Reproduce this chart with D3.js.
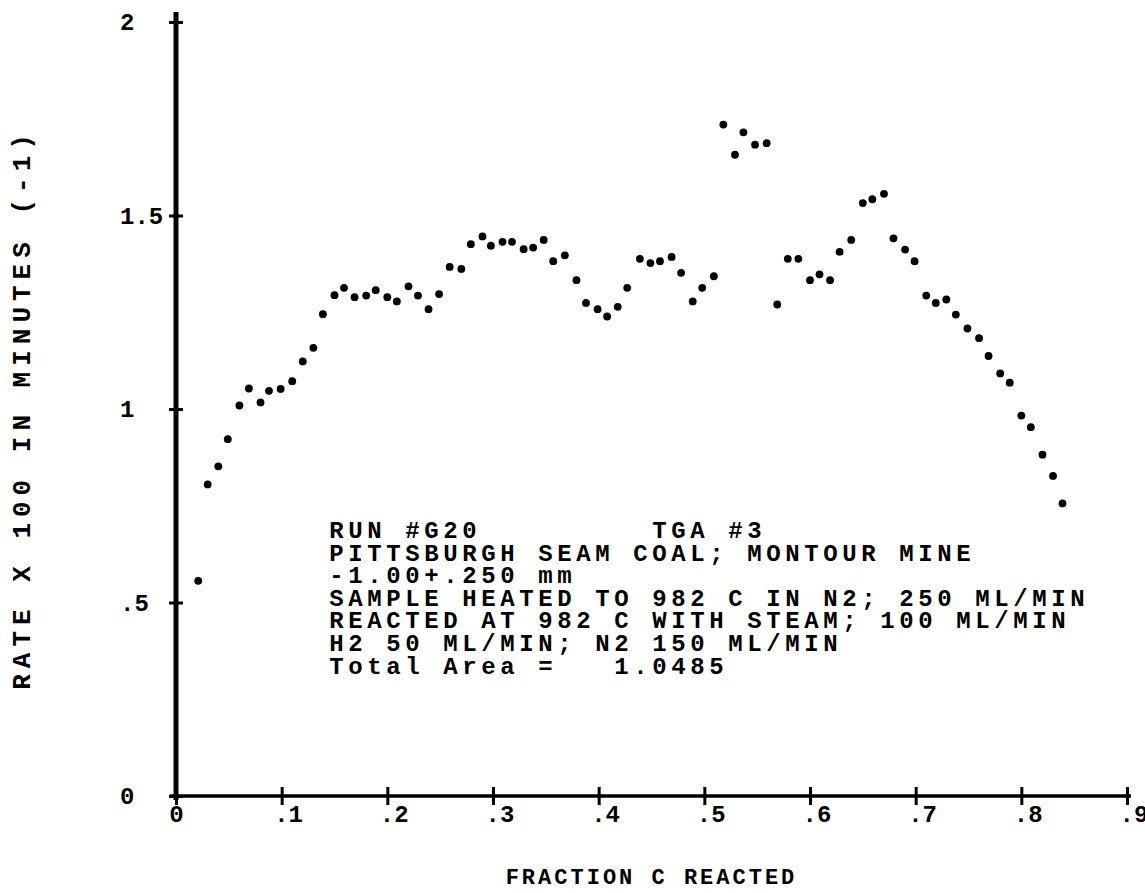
<!DOCTYPE html>
<html>
<head>
<meta charset="utf-8">
<script src="https://cdn.jsdelivr.net/npm/d3@7"></script>
<style>
  body { margin: 0; background: #fff; }
  svg text { font-family: "Liberation Mono", "DejaVu Sans Mono", monospace; fill: #000; }
</style>
</head>
<body>
<div id="chart"></div>
<script>
// fraction of carbon reacted
const fraction = [
  .021, .030, .040, .049, .060, .069, .080, .088, .099, .110,
  .120, .130, .139, .150, .159, .169, .180, .189, .200, .209,
  .220, .229, .239, .249, .259, .270, .279, .290, .298, .309,
  .318, .329, .338, .348, .357, .368, .379, .388, .399, .408,
  .418, .427, .439, .449, .458, .469, .478, .489, .498, .509,
  .518, .529, .537, .548, .559, .569, .579, .589, .600, .609,
  .619, .628, .639, .650, .659, .670, .679, .690, .699, .710,
  .719, .729, .738, .749, .760, .769, .780, .789, .800, .809,
  .820, .830, .839
];
// rate x 100 in minutes^-1
const rate = [
  .556, .805, .852, .922, 1.009, 1.053, 1.017, 1.047, 1.052, 1.072,
  1.123, 1.158, 1.245, 1.294, 1.313, 1.289, 1.293, 1.307, 1.289, 1.278,
  1.317, 1.293, 1.258, 1.297, 1.367, 1.362, 1.426, 1.446, 1.422, 1.432,
  1.432, 1.413, 1.417, 1.437, 1.382, 1.397, 1.333, 1.274, 1.258, 1.239,
  1.264, 1.313, 1.388, 1.377, 1.382, 1.393, 1.352, 1.278, 1.313, 1.343,
  1.735, 1.657, 1.715, 1.683, 1.687, 1.270, 1.388, 1.388, 1.333, 1.348,
  1.333, 1.406, 1.437, 1.532, 1.542, 1.556, 1.441, 1.412, 1.382, 1.293,
  1.274, 1.283, 1.244, 1.208, 1.183, 1.137, 1.092, 1.068, .983, .953,
  .882, .827, .756
];

const xTicks = [0, .1, .2, .3, .4, .5, .6, .7, .8, .9];
const yTicks = [0, .5, 1, 1.5, 2];

const notes = [
  "RUN #G20         TGA #3",
  "PITTSBURGH SEAM COAL; MONTOUR MINE",
  "-1.00+.250 mm",
  "SAMPLE HEATED TO 982 C IN N2; 250 ML/MIN",
  "REACTED AT 982 C WITH STEAM; 100 ML/MIN",
  "H2 50 ML/MIN; N2 150 ML/MIN",
  "Total Area =   1.0485"
];

const width = 1145, height = 893;

const svg = d3.select("#chart").append("svg")
  .attr("width", width)
  .attr("height", height);

const x = d3.scaleLinear().domain([0, .9]).range([176, 1127]);
const y = d3.scaleLinear().domain([0, 2]).range([796, 22]);

const fmt = d => d === 0 ? "0" : String(d).replace(/^0\./, ".");

// x axis
const xAxis = svg.append("g")
  .attr("transform", `translate(0,${y(0)})`)
  .call(d3.axisBottom(x).tickValues(xTicks).tickSize(0).tickFormat(fmt));
xAxis.select(".domain").remove();
xAxis.append("line")
  .attr("x1", x(0) - 6).attr("x2", x(.9) + 4)
  .attr("stroke", "#000").attr("stroke-width", 3.5);
xAxis.selectAll(".tick").append("line")
  .attr("y1", -9).attr("y2", 9)
  .attr("stroke", "#000").attr("stroke-width", 3);
xAxis.selectAll(".tick text")
  .attr("y", 9).attr("dy", "0.71em")
  .attr("text-anchor", d => d === 0 ? "middle" : "start")
  .attr("dx", d => d === 0 ? 0 : -8)
  .attr("font-size", 24).attr("font-weight", "bold")
  .style("font-family", "'Liberation Mono', monospace");

// y axis
const yAxis = svg.append("g")
  .attr("transform", `translate(${x(0)},0)`)
  .call(d3.axisLeft(y).tickValues(yTicks).tickSize(0).tickFormat(fmt));
yAxis.select(".domain").remove();
yAxis.append("line")
  .attr("y1", y(2) - 10).attr("y2", y(0) + 4)
  .attr("stroke", "#000").attr("stroke-width", 5);
yAxis.selectAll(".tick").append("line")
  .attr("x1", -7).attr("x2", 7)
  .attr("stroke", "#000").attr("stroke-width", 3);
yAxis.selectAll(".tick text")
  .attr("x", -56).attr("text-anchor", "start")
  .attr("font-size", 24).attr("font-weight", "bold")
  .style("font-family", "'Liberation Mono', monospace");

// points
svg.append("g")
  .selectAll("circle")
  .data(fraction.map((f, i) => ({f, r: rate[i]})))
  .join("circle")
    .attr("cx", d => x(d.f))
    .attr("cy", d => y(d.r))
    .attr("r", 3.9)
    .attr("fill", "#000");

// annotation block
const note = svg.append("text")
  .attr("x", x(.145))
  .attr("y", 538)
  .attr("font-size", 24)
  .attr("font-weight", "bold")
  .attr("letter-spacing", 4.6)
  .style("white-space", "pre");
note.selectAll("tspan")
  .data(notes)
  .join("tspan")
    .attr("x", x(.145))
    .attr("dy", (d, i) => i === 0 ? 0 : 22.6)
    .text(d => d);

// axis titles
svg.append("text")
  .attr("x", (x(0) + x(.9)) / 2)
  .attr("y", 884)
  .attr("text-anchor", "middle")
  .attr("font-size", 22)
  .attr("font-weight", "bold")
  .attr("letter-spacing", 3)
  .text("FRACTION C REACTED");

svg.append("text")
  .attr("transform", `translate(30,${y(1)}) rotate(-90)`)
  .attr("text-anchor", "middle")
  .attr("font-size", 26)
  .attr("font-weight", "bold")
  .attr("letter-spacing", 6)
  .text("RATE X 100 IN MINUTES (-1)");
</script>
</body>
</html>
